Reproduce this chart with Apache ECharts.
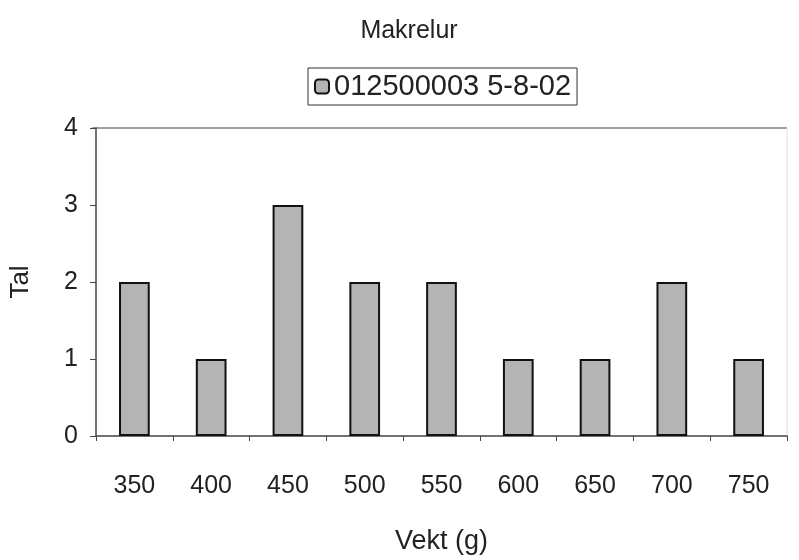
<!DOCTYPE html>
<html>
<head>
<meta charset="utf-8">
<script src="https://cdn.jsdelivr.net/npm/echarts@6/dist/echarts.min.js"></script>
<style>
  html, body { margin: 0; padding: 0; background: #fff; }
  #chart { width: 799px; height: 560px; }
</style>
</head>
<body>
<div id="chart"></div>
<script>
// data
const categories = ['350', '400', '450', '500', '550', '600', '650', '700', '750']
const counts = [2, 1, 3, 2, 2, 1, 1, 2, 1]
const seriesName = '012500003 5-8-02'
const yTicks = [0, 1, 2, 3, 4]

const myChart = echarts.init(document.getElementById('chart'))
const font = 'Liberation Sans, Arial, sans-serif'

const option = {
  animation: false,
  title: {
    text: 'Makrelur',
    left: 404,
    top: 14,
    textAlign: 'center',
    textStyle: { fontFamily: font, fontSize: 25, fontWeight: 'normal', color: '#222' }
  },
  legend: {
    data: [seriesName],
    left: 308,
    top: 68,
    padding: [4, 6],
    itemWidth: 14,
    itemHeight: 14,
    itemGap: 5,
    borderColor: '#333',
    borderWidth: 1,
    textStyle: { fontFamily: font, fontSize: 29, color: '#222' }
  },
  grid: {
    left: 92,
    right: 12,
    top: 128,
    bottom: 122
  },
  xAxis: {
    type: 'category',
    data: categories,
    name: 'Vekt (g)',
    nameLocation: 'middle',
    nameGap: 92,
    nameTextStyle: { fontFamily: font, fontSize: 27, color: '#222' },
    axisLine: { lineStyle: { color: '#444', width: 1.5 } },
    axisTick: { show: true, length: 5, lineStyle: { color: '#444' } },
    axisLabel: { fontFamily: font, fontSize: 25, color: '#222', margin: 38 }
  },
  yAxis: {
    type: 'value',
    min: yTicks[0],
    max: yTicks[yTicks.length - 1],
    interval: 1,
    name: 'Tal',
    nameLocation: 'middle',
    nameGap: 62,
    nameTextStyle: { fontFamily: font, fontSize: 26, color: '#222' },
    axisLine: { show: true, lineStyle: { color: '#444', width: 1.5 } },
    axisTick: { show: true, length: 6, inside: false, lineStyle: { color: '#444' } },
    axisLabel: { fontFamily: font, fontSize: 25, color: '#222', margin: 18 },
    splitLine: { show: false }
  },
  series: [
    {
      name: seriesName,
      type: 'bar',
      data: counts,
      barWidth: '40%',
      itemStyle: {
        color: '#b4b4b4',
        borderColor: '#111',
        borderWidth: 2
      }
    }
  ],
  graphic: [
    {
      // top border of plot area like the Excel chart frame
      type: 'line',
      shape: { x1: 92, y1: 128, x2: 787, y2: 128 },
      style: { stroke: '#444', lineWidth: 1.2 }
    },
    {
      type: 'line',
      shape: { x1: 787, y1: 128, x2: 787, y2: 438 },
      style: { stroke: '#ddd', lineWidth: 1 }
    }
  ]
}

myChart.setOption(option)
window.addEventListener('resize', function () {
  myChart.resize()
})
</script>
</body>
</html>
